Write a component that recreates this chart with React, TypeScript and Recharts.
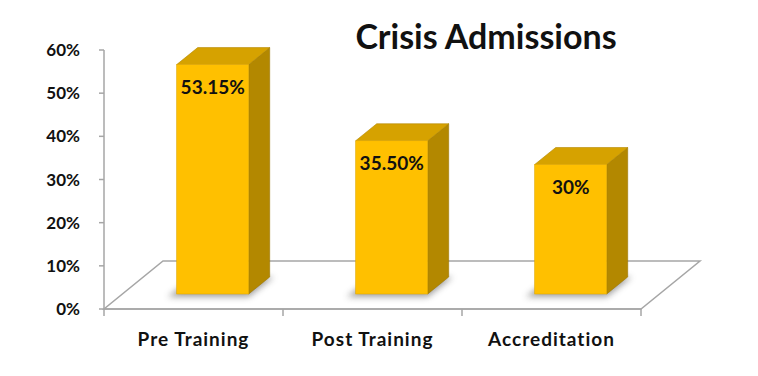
import { BarChart, Bar, XAxis, YAxis, ReferenceArea, LabelList } from 'recharts';

const categories = ['Pre Training', 'Post Training', 'Accreditation'];
const admissions = [53.15, 35.5, 30];
const valueLabels = ['53.15%', '35.50%', '30%'];
const yTicks = [0, 10, 20, 30, 40, 50, 60];

const data = categories.map((name, i) => ({
  name,
  value: admissions[i],
  label: valueLabels[i],
}));

const FONT = 'Lato, "Open Sans", sans-serif';
const AXIS = '#a6a6a6';

// bars stand a third of the way into the floor
const SHIFT_X = 19;
const SHIFT_Y = -15;
// bar depth
const DEPTH_X = 21;
const DEPTH_Y = -17;
// floor depth
const FLOOR_X = 59;
const FLOOR_Y = -48;

const Floor = (props: any) => {
  const { x, y, width, height } = props;
  const b = y + height;
  const n = categories.length;
  return (
    <g>
      <defs>
        <filter id="barShadow" x="-50%" y="-50%" width="200%" height="200%">
          <feGaussianBlur stdDeviation="3" />
        </filter>
      </defs>
      <polygon
        points={`${x},${b} ${x + width},${b} ${x + width + FLOOR_X},${b + FLOOR_Y} ${x + FLOOR_X},${b + FLOOR_Y}`}
        fill="#fff"
        stroke={AXIS}
        strokeWidth={1.5}
      />
      {Array.from({ length: n + 1 }, (_, i) => {
        const tx = x + (width * i) / n;
        return <line key={i} x1={tx} y1={b} x2={tx} y2={b + 7} stroke={AXIS} strokeWidth={1.5} />;
      })}
    </g>
  );
};

const Bar3D = (props: any) => {
  const { x, y, width, height } = props;
  const fx = x + SHIFT_X;
  const fy = y + SHIFT_Y;
  const fb = fy + height;
  const r = fx + width;
  return (
    <g>
      <polygon
        points={`${fx - 9},${fb + 3} ${r},${fb + 3} ${r + DEPTH_X + 4},${fb + DEPTH_Y} ${fx + DEPTH_X - 4},${fb + DEPTH_Y}`}
        fill="#555"
        opacity={0.55}
        filter="url(#barShadow)"
      />
      <polygon
        points={`${r},${fy} ${r + DEPTH_X},${fy + DEPTH_Y} ${r + DEPTH_X},${fb + DEPTH_Y} ${r},${fb}`}
        fill="#b38800"
        stroke="#9c7600"
        strokeWidth={0.6}
      />
      <polygon
        points={`${fx},${fy} ${r},${fy} ${r + DEPTH_X},${fy + DEPTH_Y} ${fx + DEPTH_X},${fy + DEPTH_Y}`}
        fill="#d6a200"
        stroke="#b38800"
        strokeWidth={0.6}
      />
      <rect x={fx} y={fy} width={width} height={height} fill="#ffc000" stroke="#e0a800" strokeWidth={0.6} />
    </g>
  );
};

const BarLabel = (props: any) => {
  const { x, y, width, value } = props;
  return (
    <text
      x={x + SHIFT_X + width / 2}
      y={y + SHIFT_Y + 22}
      textAnchor="middle"
      dominantBaseline="central"
      fontFamily={FONT}
      fontWeight={700}
      fontSize={19}
      fill="#111"
    >
      {value}
    </text>
  );
};

export default function App() {
  return (
    <div style={{ position: 'absolute', left: 0, top: 0, width: 758, height: 376, background: '#fff' }}>
      <div
        style={{
          position: 'absolute',
          left: 486,
          top: 16,
          transform: 'translateX(-50%)',
          fontFamily: FONT,
          fontWeight: 700,
          fontSize: 34,
          whiteSpace: 'nowrap',
          color: '#111',
          lineHeight: '40px',
        }}
      >
        Crisis Admissions
      </div>
      <BarChart
        width={758}
        height={376}
        data={data}
        margin={{ top: 50, right: 117, left: 0, bottom: 0 }}
        barCategoryGap="30%"
      >
        <ReferenceArea shape={<Floor />} ifOverflow="visible" />
        <XAxis
          dataKey="name"
          height={67}
          axisLine={{ stroke: AXIS, strokeWidth: 1.5 }}
          tickLine={false}
          tickSize={0}
          tickMargin={24}
          tick={{ fontFamily: FONT, fontWeight: 700, fontSize: 19, letterSpacing: 1, fill: '#111' }}
        />
        <YAxis
          width={104}
          domain={[0, 60]}
          ticks={yTicks}
          interval={0}
          tickFormatter={(v: number) => `${v}%`}
          axisLine={{ stroke: AXIS, strokeWidth: 1.5 }}
          tickLine={{ stroke: AXIS, strokeWidth: 1.5 }}
          tickSize={5}
          tickMargin={19}
          tick={{ fontFamily: FONT, fontWeight: 700, fontSize: 17, fill: '#111' }}
        />
        <Bar dataKey="value" shape={<Bar3D />} isAnimationActive={false}>
          <LabelList dataKey="label" content={<BarLabel />} />
        </Bar>
      </BarChart>
    </div>
  );
}
